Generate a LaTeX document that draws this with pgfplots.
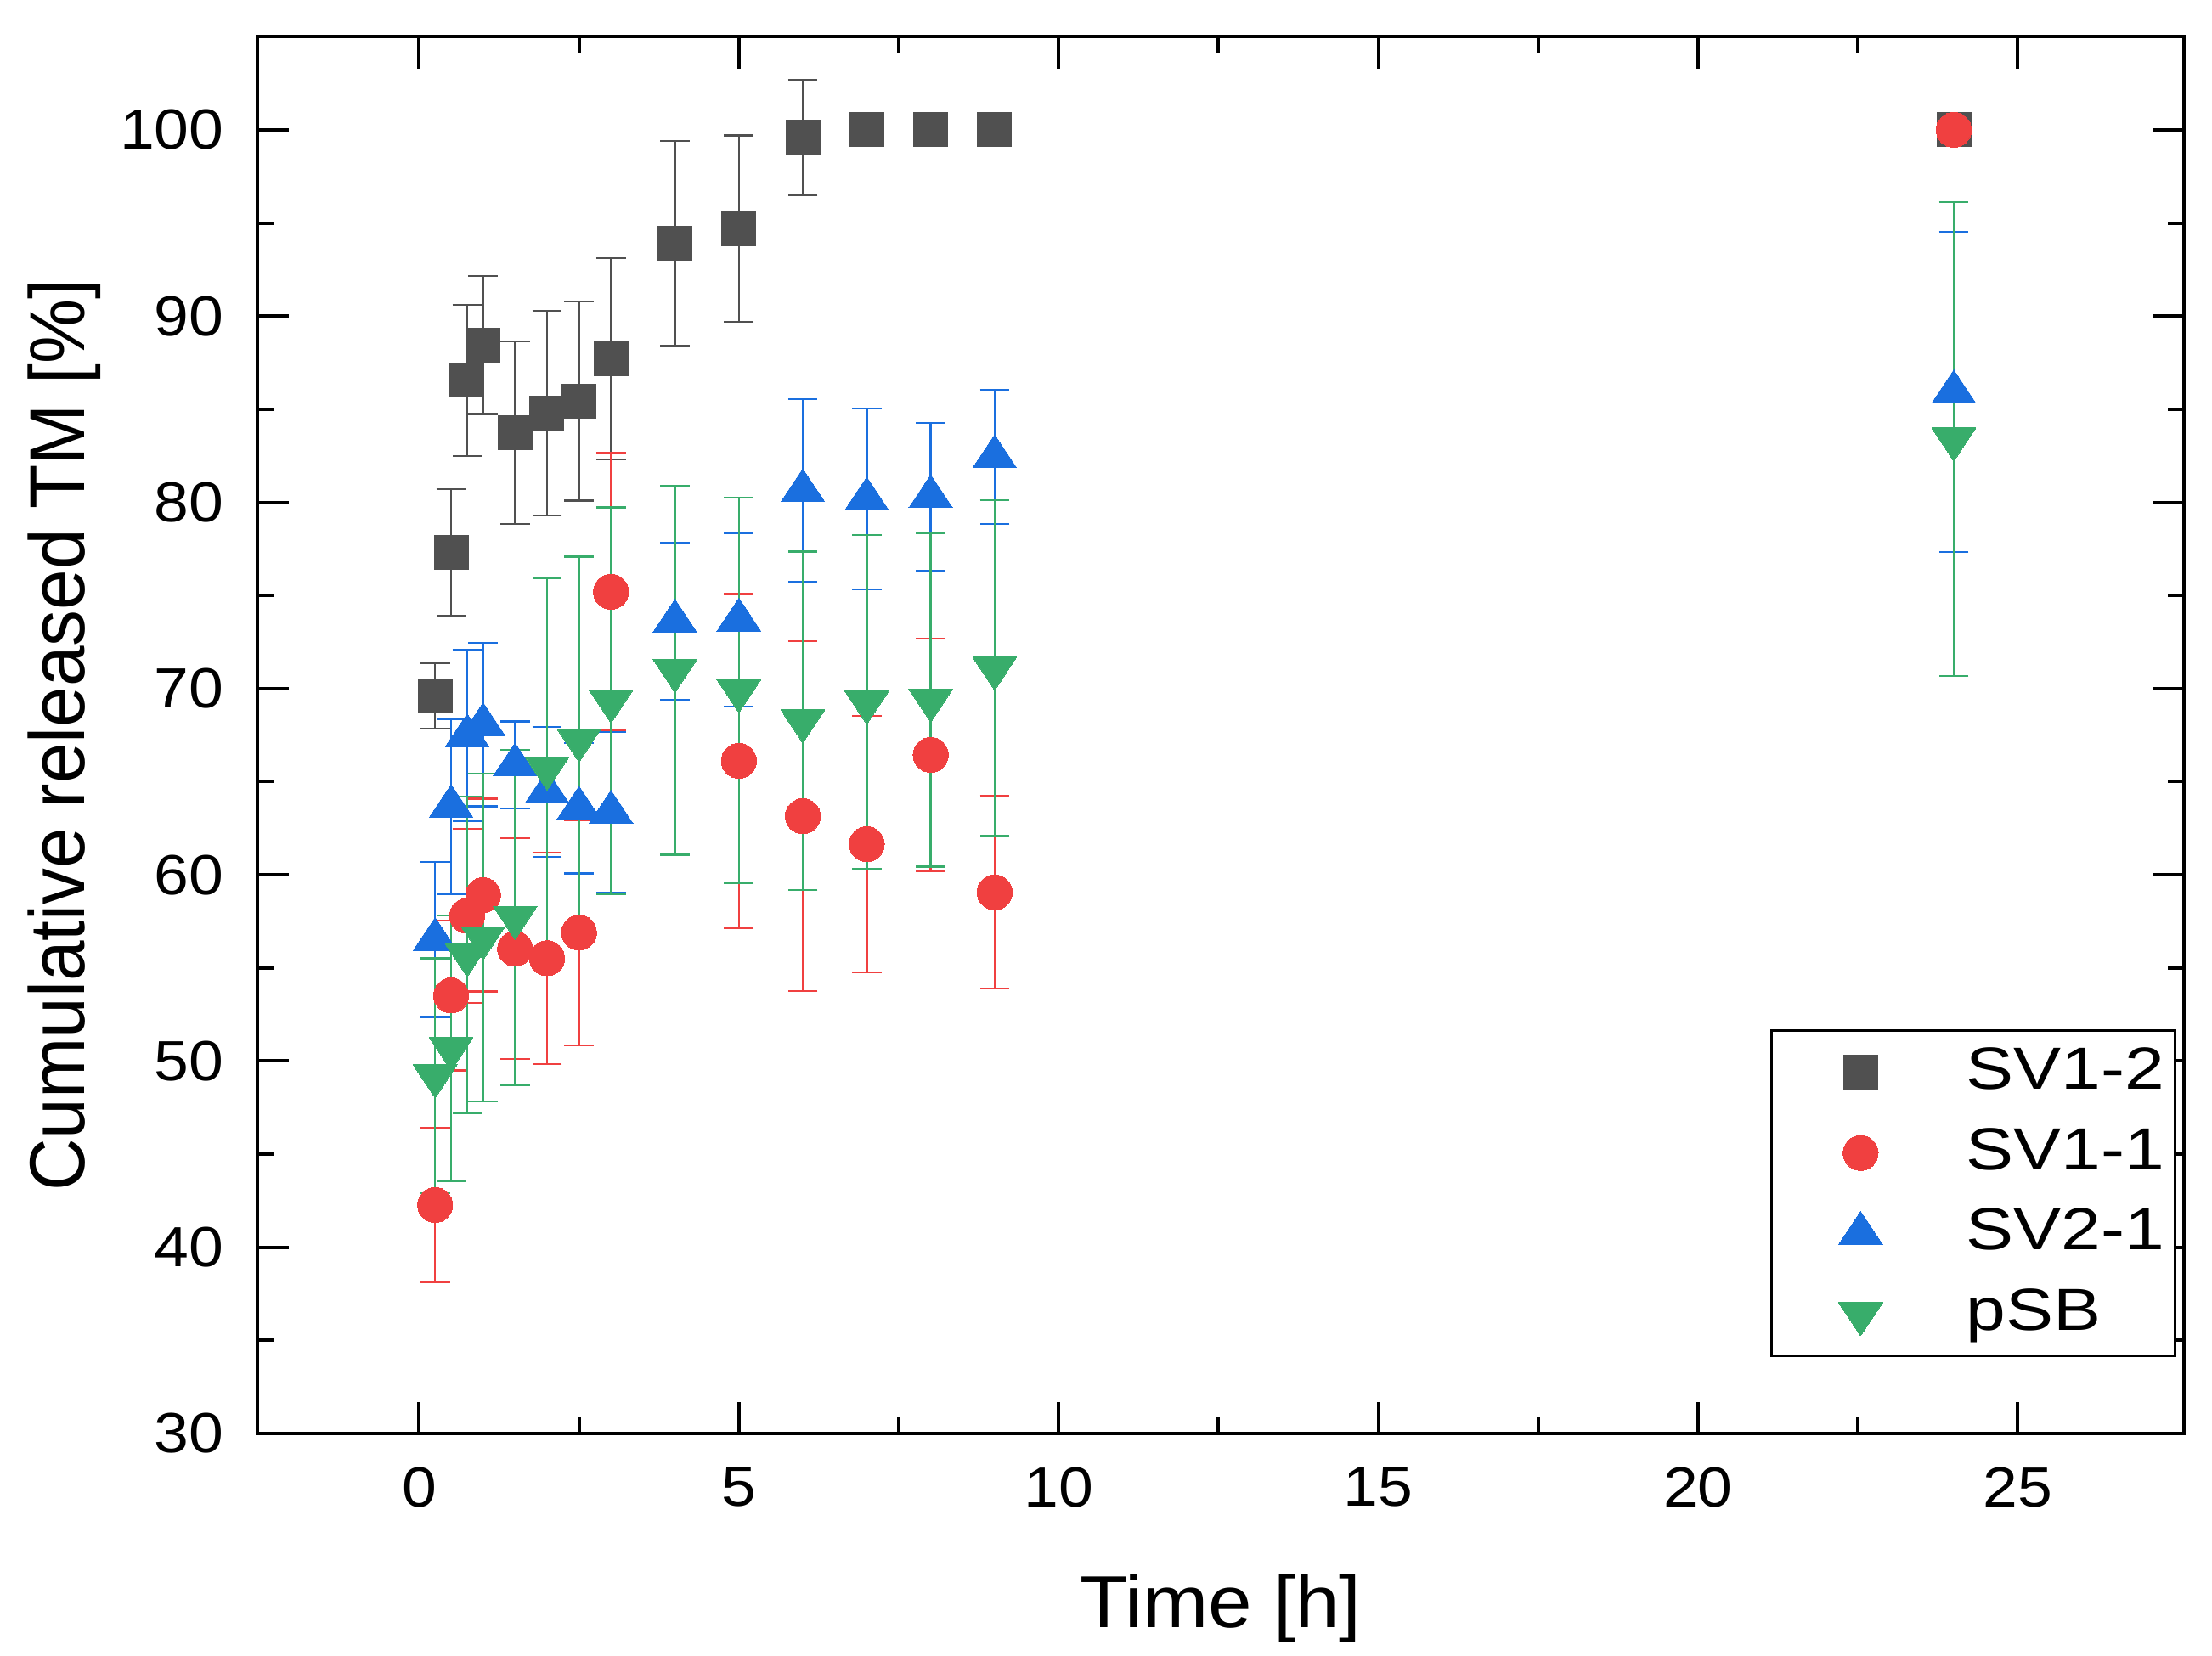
\documentclass[border=0pt]{standalone}
\usepackage{fontspec}
\setmainfont{Liberation Sans}
\newfontfamily\tickfont[FakeStretch=1.1]{Liberation Sans}
\newfontfamily\legfont[FakeStretch=1.2]{Liberation Sans}
\newfontfamily\xlabfont[FakeStretch=1.07]{Liberation Sans}
\newfontfamily\ylabfont[FakeStretch=0.93]{Liberation Sans}
\usepackage{pgfplots}
\usepackage{pgfplotstable}
\pgfplotsset{compat=1.18}

\definecolor{cgray}{HTML}{505050}
\definecolor{cred}{HTML}{F04040}
\definecolor{cblue}{HTML}{1A6FDF}
\definecolor{cgreen}{HTML}{38AD6B}

% t = time [h], y = cumulative release [%], e = error
\pgfplotstableread{
t     y      e
0.25  69.6   1.76
0.5   77.3   3.4
0.75  86.55  4.05
1     88.45  3.7
1.5   83.75  4.9
2     84.8   5.5
2.5   85.45  5.35
3     87.7   5.4
4     93.9   5.5
5     94.7   5.0
6     99.6   3.1
7     100    0
8     100    0
9     100    0
24    100    0.3
}\svonetwo

\pgfplotstableread{
t     y      e
0.25  42.27  4.15
0.5   53.52  4.03
0.75  57.8   4.67
1     58.91  5.17
1.5   56.03  5.93
2     55.52  5.68
2.5   56.9   6.05
3     75.2   7.44
5     66.12  8.96
6     63.15  9.4
7     61.65  6.88
8     66.44  6.25
9     59.06  5.18
24    100    0.3
}\svoneone

\pgfplotstableread{
t     y      e
0.25  56.53  4.17
0.5   63.67  4.7
0.75  67.47  4.6
1     68.07  4.4
1.5   65.9   2.33
2     64.45  3.5
2.5   63.58  3.5
3     63.36  4.3
4     73.62  4.22
5     73.68  4.66
6     80.62  4.91
7     80.18  4.85
8     80.30  3.98
9     82.45  3.6
24    85.93  8.6
}\svtwoone

\pgfplotstableread{
t     y      e
0.25  49.21  6.31
0.5   50.68  7.13
0.75  55.71  8.5
1     56.63  8.8
1.5   57.72  9.0
2     65.74  10.2
2.5   67.25  9.83
3     69.34  10.39
4     70.98  9.91
5     69.9   10.34
6     68.27  9.09
7     69.28  8.96
8     69.39  8.95
9     71.1   9.02
24    83.4   12.71
}\psb

\begin{document}
\begin{tikzpicture}
\begin{axis}[
    scale only axis,
    width=340.2pt, height=246.7pt,
    xmin=-2.53, xmax=27.6,
    ymin=30, ymax=105,
    xtick={0,5,...,25},
    ytick={30,40,...,100},
    minor x tick num=1,
    minor y tick num=1,
    tick align=inside,
    major tick length=5.6pt,
    minor tick length=2.8pt,
    axis line style={line width=0.6pt},
    every tick/.style={black, line width=0.6pt},
    /pgf/number format/assume math mode=true,
    tick label style={font=\tickfont\fontsize{10}{12}\selectfont},
    xticklabel style={yshift=-2.4pt},
    yticklabel style={xshift=-2.4pt},
    xlabel={Time [h]},
    ylabel={Cumulative released TM [\%]},
    every axis x label/.style={at={(axis description cs:0.5,-0.1392)}, anchor=base,
        font=\xlabfont\fontsize{13}{15}\selectfont},
    every axis y label/.style={at={(axis description cs:-0.0897,0.5)}, rotate=90, anchor=base,
        font=\ylabfont\fontsize{13.8}{16}\selectfont},
    legend style={at={(axis description cs:1,0)}, anchor=south east,
        xshift=-1.35pt, yshift=13.5pt,
        draw=black, line width=0.5pt, fill=white,
        inner xsep=0pt, inner ysep=0.3pt, row sep=0pt, column sep=0pt,
        nodes={inner sep=0pt, text width=36.9pt},
        font=\legfont\fontsize{10.5}{12}\selectfont},
    legend cell align=left,
    legend image code/.code={
        \path[draw=none, fill=none] (0pt,-7.1pt) rectangle (34.35pt,7.1pt);
        \draw[#1] plot coordinates {(15.75pt,0pt)};
    },
]

\addplot[only marks, mark=square*, mark size=3pt, color=cgray,
    mark options={fill=cgray, draw=cgray, line width=0pt},
    error bars/.cd, y dir=both, y explicit,
    error bar style={line width=0.35pt, cgray},
    error mark options={rotate=90, mark size=2.6pt, line width=0.35pt, cgray}]
    table[x=t, y=y, y error=e] {\svonetwo};
\addlegendentry{SV1-2}

\addplot[only marks, mark=*, mark size=3.1pt, color=cred,
    mark options={fill=cred, draw=cred, line width=0pt},
    error bars/.cd, y dir=both, y explicit,
    error bar style={line width=0.35pt, cred},
    error mark options={rotate=90, mark size=2.6pt, line width=0.35pt, cred}]
    table[x=t, y=y, y error=e] {\svoneone};
\addlegendentry{SV1-1}

\addplot[only marks, mark=triangle*, mark size=3.9pt, color=cblue,
    mark options={fill=cblue, draw=cblue, line width=0pt, xscale=1.15},
    error bars/.cd, y dir=both, y explicit,
    error bar style={line width=0.35pt, cblue},
    error mark options={rotate=90, mark size=2.6pt, line width=0.35pt, cblue}]
    table[x=t, y=y, y error=e] {\svtwoone};
\addlegendentry{SV2-1}

\addplot[only marks, mark=triangle*, mark size=3.9pt, color=cgreen,
    mark options={fill=cgreen, draw=cgreen, line width=0pt, rotate=180, xscale=1.15},
    error bars/.cd, y dir=both, y explicit,
    error bar style={line width=0.35pt, cgreen},
    error mark options={rotate=90, mark size=2.6pt, line width=0.35pt, cgreen}]
    table[x=t, y=y, y error=e] {\psb};
\addlegendentry{pSB}

\end{axis}
\pgfresetboundingbox
\useasboundingbox ([xshift=-45.45pt,yshift=-39.3pt]current axis.south west)
    rectangle ([xshift=4.95pt,yshift=6.5pt]current axis.north east);
\end{tikzpicture}
\end{document}
